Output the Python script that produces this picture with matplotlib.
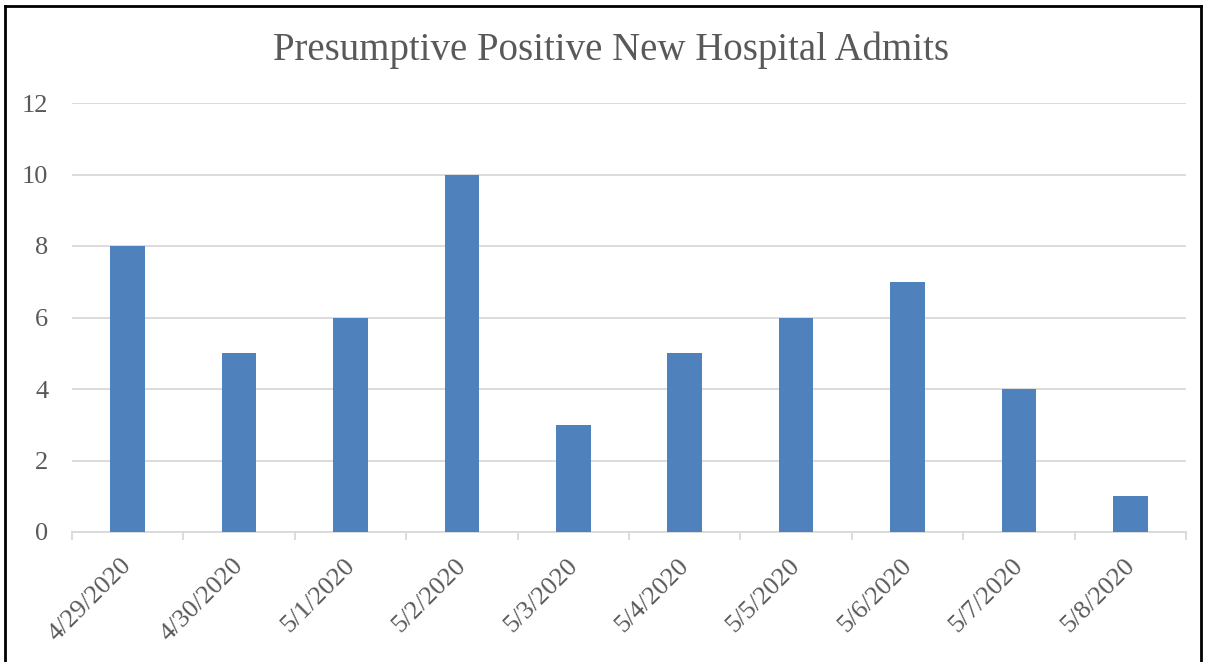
import matplotlib.pyplot as plt
import matplotlib.transforms as mtransforms
from matplotlib.lines import Line2D

dates = ['4/29/2020', '4/30/2020', '5/1/2020', '5/2/2020', '5/3/2020',
         '5/4/2020', '5/5/2020', '5/6/2020', '5/7/2020', '5/8/2020']
admits = [8, 5, 6, 10, 3, 5, 6, 7, 4, 1]

plt.rcParams['font.family'] = ['Liberation Serif', 'DejaVu Serif']
txt = '#595959'
grid = '#d9d9d9'

fig = plt.figure(figsize=(12.07, 6.62), dpi=100)
ax = fig.add_axes([72/1207, 130/662, 1114/1207, 429/662])

x = range(len(dates))
ax.bar(x, admits, width=0.31, color='#4f81bd', zorder=3)

ax.set_xlim(-0.5, len(dates) - 0.5)
ax.set_ylim(0, 12)
ax.set_yticks(range(0, 13, 2))
ax.yaxis.grid(True, color=grid, linewidth=1.3, zorder=0)
ax.tick_params(axis='y', length=0, pad=17, labelsize=19, labelcolor=txt)

ax.set_xticks(list(x))
ax.set_xticklabels(dates, rotation=45, ha='right', rotation_mode='anchor',
                   fontsize=19, color=txt)
ax.tick_params(axis='x', length=0, pad=16)
# nudge the rotated labels a little left
shift = mtransforms.ScaledTranslation(-7/100, 0, fig.dpi_scale_trans)
for lab in ax.get_xticklabels():
    lab.set_transform(lab.get_transform() + shift)
# category separators on the axis
ax.set_xticks([i - 0.5 for i in range(len(dates) + 1)], minor=True)
ax.tick_params(axis='x', which='minor', length=6, color=grid, width=1.3)

for s in ['top', 'right', 'left']:
    ax.spines[s].set_visible(False)
ax.spines['bottom'].set_color(grid)
ax.spines['bottom'].set_linewidth(1.3)

fig.text(611/1207, 1 - 50/662, 'Presumptive Positive New Hospital Admits',
         ha='center', va='center', fontsize=28, color=txt)

# outer frame
fig.add_artist(Line2D([5/1207, 5/1207], [0, 1 - 6/662], color='black', lw=2, transform=fig.transFigure))
fig.add_artist(Line2D([5/1207, 1201/1207], [1 - 6/662, 1 - 6/662], color='black', lw=2, transform=fig.transFigure))
fig.add_artist(Line2D([1201/1207, 1201/1207], [0, 1 - 6/662], color='black', lw=2, transform=fig.transFigure))

fig.savefig('out.png', dpi=100)
